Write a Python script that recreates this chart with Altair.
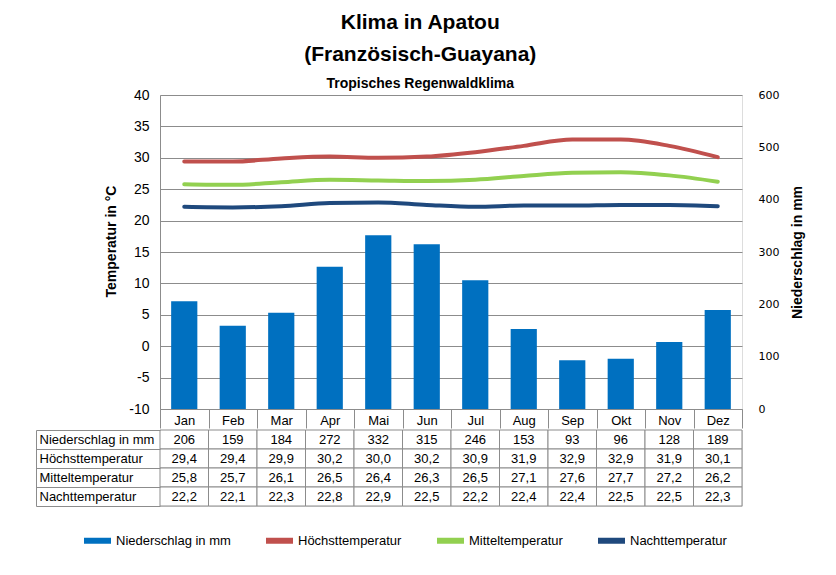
import altair as alt
import pandas as pd

months = ["Jan", "Feb", "Mar", "Apr", "Mai", "Jun", "Jul", "Aug", "Sep", "Okt", "Nov", "Dez"]
niederschlag = [206, 159, 184, 272, 332, 315, 246, 153, 93, 96, 128, 189]
hoechst = [29.4, 29.4, 29.9, 30.2, 30.0, 30.2, 30.9, 31.9, 32.9, 32.9, 31.9, 30.1]
mittel = [25.8, 25.7, 26.1, 26.5, 26.4, 26.3, 26.5, 27.1, 27.6, 27.7, 27.2, 26.2]
nacht = [22.2, 22.1, 22.3, 22.8, 22.9, 22.5, 22.2, 22.4, 22.4, 22.5, 22.5, 22.3]

series_names = ["Niederschlag in mm", "Höchsttemperatur", "Mitteltemperatur", "Nachttemperatur"]
series_colors = ["#0070C0", "#C0504D", "#92D050", "#1F497D"]

temp_ticks = [-10, -5, 0, 5, 10, 15, 20, 25, 30, 35, 40]
precip_ticks = [0, 100, 200, 300, 400, 500, 600]

FONT = "Liberation Sans"
TITLE_FONT = "Liberation Sans Narrow, Arial Narrow, Liberation Sans, sans-serif"
GRID = "#8c8c8c"

bars_df = pd.DataFrame({"Monat": months, "Niederschlag": niederschlag})
lines_df = pd.concat([
    pd.DataFrame({"Monat": months, "Wert": vals, "Serie": name})
    for name, vals in zip(series_names[1:], [hoechst, mittel, nacht])
])

def fmt(v, dec):
    return f"{v:.{dec}f}".replace(".", ",")

table_rows = []
for name, vals, dec in zip(series_names, [niederschlag, hoechst, mittel, nacht], [0, 1, 1, 1]):
    for m, v in zip(months, vals):
        table_rows.append({"Zeile": name, "Monat": m, "Text": fmt(v, dec)})
table_df = pd.DataFrame(table_rows)

W, H = 582, 314

x_main = alt.X(
    "Monat:N", sort=months,
    scale=alt.Scale(domain=months, paddingInner=0, paddingOuter=0),
    axis=alt.Axis(
        title=None, orient="bottom", labelAngle=0, labelFont=FONT, labelFontSize=13,
        labelColor="black", domainColor=GRID, tickColor=GRID, tickSize=19,
        tickBand="extent", labelBaseline="middle", labelPadding=-8,
    ),
)

bars = alt.Chart(bars_df).mark_bar(
    color=series_colors[0], width=alt.RelativeBandSize(0.54)
).encode(
    x=x_main,
    y=alt.Y(
        "Niederschlag:Q",
        scale=alt.Scale(domain=[0, 600], nice=False, zero=True),
        axis=alt.Axis(
            orient="right", values=precip_ticks, grid=False, ticks=False, domain=False,
            labelFont="DejaVu Sans", labelFontSize=11, labelColor="black", labelPadding=16,
            title="Niederschlag in mm", titleFont=FONT, titleFontSize=14,
            titleFontWeight="bold", titleColor="black", titleAngle=270,
            titleBaseline="top", titlePadding=12,
        ),
    ),
)

lines = alt.Chart(lines_df).mark_line(
    interpolate="monotone", strokeWidth=4, strokeCap="round"
).encode(
    x=x_main,
    y=alt.Y(
        "Wert:Q",
        scale=alt.Scale(domain=[-10, 40], nice=False, zero=False),
        axis=alt.Axis(
            orient="left", values=temp_ticks, grid=True, gridColor=GRID, ticks=False,
            domain=True, domainColor=GRID, labelFont=FONT, labelFontSize=14,
            labelColor="black", labelPadding=11,
            labelExpr="replace(datum.label, '\u2212', '-')",
            title="Temperatur in °C", titleFont=FONT, titleFontSize=14,
            titleFontWeight="bold", titleColor="black", titlePadding=10, titleY=146,
        ),
    ),
    color=alt.Color(
        "Serie:N",
        scale=alt.Scale(domain=series_names, range=series_colors),
        legend=alt.Legend(
            title=None, orient="none", direction="horizontal", legendX=-79, legendY=429,
            symbolType="stroke", symbolStrokeWidth=6, symbolSize=729,
            labelFont=FONT, labelFontSize=13, labelColor="black", labelOffset=2,
            columnPadding=23,
        ),
    ),
)

main = alt.layer(bars, lines).resolve_scale(y="independent").properties(width=W, height=H)

x_tab = alt.X(
    "Monat:N", sort=months,
    scale=alt.Scale(domain=months, paddingInner=0, paddingOuter=0),
    axis=None,
)
y_scale = alt.Scale(domain=series_names, paddingInner=0, paddingOuter=0)

cells = alt.Chart(table_df).mark_rect(fill="white", stroke=GRID, strokeWidth=1).encode(
    x=x_tab,
    y=alt.Y(
        "Zeile:N", sort=series_names, scale=y_scale,
        axis=alt.Axis(
            title=None, orient="left", domain=False, tickBand="extent", tickSize=124,
            tickColor=GRID, labelAlign="left", labelPadding=-3, labelFont=FONT,
            labelFontSize=13, labelColor="black", labelLimit=0,
        ),
    ),
)

texts = alt.Chart(table_df).mark_text(font=FONT, fontSize=13, color="black").encode(
    x=x_tab,
    y=alt.Y(
        "Zeile:N", sort=series_names, scale=y_scale,
        axis=alt.Axis(
            title=None, orient="left", offset=124, domain=True, domainColor=GRID,
            labels=False, ticks=False, grid=False,
        ),
    ),
    text="Text:N",
)

table = alt.layer(cells, texts).resolve_axis(y="independent").properties(width=W, height=76)

chart = alt.vconcat(main, table, spacing=-6).properties(
    title=alt.TitleParams(
        text=["Klima in Apatou", "(Französisch-Guayana)"],
        subtitle="Tropisches Regenwaldklima",
        font=TITLE_FONT, fontSize=21, fontWeight="bold", color="black",
        lineHeight=32, subtitleFont=TITLE_FONT, subtitleFontSize=14,
        subtitleFontWeight="bold", subtitleColor="black", subtitlePadding=12,
        anchor="middle", offset=-3,
    ),
    padding={"left": 27, "top": 3, "right": 5, "bottom": 5},
).configure_view(stroke=None).configure(background="white")

chart.save("out.html", embed_options={"renderer": "svg", "actions": False})
